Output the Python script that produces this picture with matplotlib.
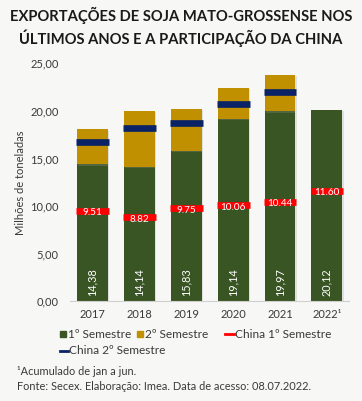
import matplotlib
matplotlib.use("Agg")
import matplotlib.pyplot as plt
import matplotlib.patheffects as pe
from matplotlib.patches import Rectangle
from matplotlib.lines import Line2D

years = ["2017", "2018", "2019", "2020", "2021", "2022\u00b9"]
sem1 = [14.38, 14.14, 15.83, 19.14, 19.97, 20.12]
sem2 = [3.69, 5.89, 4.41, 3.26, 3.83, 0.0]
china1 = [9.51, 8.82, 9.75, 10.06, 10.44, 11.60]
china2 = [16.77, 18.20, 18.70, 20.70, 22.00, None]
yticks = [0, 5, 10, 15, 20, 25]
legend_labels = ["1º Semestre", "2º Semestre", "China 1º Semestre", "China 2º Semestre"]

GREEN = "#3A5524"
GOLD = "#C09000"
RED = "#FF0000"
NAVY = "#0A2266"
BG = "#F7F7F5"
TXT = "#3A3A3A"

plt.rcParams["font.family"] = ["Lato", "DejaVu Sans"]

W, H = 362, 401
fig = plt.figure(figsize=(3.62, 4.01), dpi=100, facecolor=BG)
ax = fig.add_axes([0.193, 0.249, 0.771, 0.593], facecolor=BG)

x = list(range(len(years)))
w = 0.66
shadow = [pe.SimplePatchShadow(offset=(1.0, -1.0), shadow_rgbFace="#999999", alpha=0.25), pe.Normal()]
b1 = ax.bar(x, sem1, width=w, color=GREEN, zorder=2)
b2 = ax.bar(x, sem2, width=w, bottom=sem1, color=GOLD, zorder=2)
for r1, r2, s2 in zip(b1, b2, sem2):
    r1.set_path_effects(shadow)
    if s2 > 0:
        r2.set_path_effects(shadow)

for xi, v in zip(x, china1):
    ax.hlines(v, xi - w / 2 - 0.02, xi + w / 2 + 0.02, color=RED, linewidth=4.8, zorder=3)
    ax.text(xi, v - 0.2, f"{v:.2f}", color="white", ha="center", va="center",
            fontsize=7.2, zorder=4)
for xi, v in zip(x, china2):
    if v is not None:
        ax.hlines(v, xi - w / 2 - 0.02, xi + w / 2 + 0.02, color=NAVY, linewidth=4.8, zorder=3)

for xi, v in zip(x, sem1):
    ax.text(xi, 2.0, f"{v:.2f}".replace(".", ","), color="white", rotation=90,
            ha="center", va="center", fontsize=7.8, zorder=4)

ax.set_xlim(-0.48, 5.47)
ax.set_ylim(0, 25)
ax.set_yticks(yticks)
ax.set_yticklabels([f"{t:.2f}".replace(".", ",") for t in yticks], fontsize=8, color=TXT)
ax.set_xticks(x)
ax.set_xticklabels(years, fontsize=8, color=TXT)
ax.tick_params(length=0, pad=6)
ax.tick_params(axis="y", pad=8)
for s in ["top", "right", "left"]:
    ax.spines[s].set_visible(False)
ax.spines["bottom"].set_color("#D0D0D0")
ax.set_ylabel("Milhões de toneladas", fontsize=8, color=TXT, labelpad=3)

fig.text(0.5, 0.962, "EXPORTAÇÕES DE SOJA MATO-GROSSENSE NOS", ha="center", va="center",
         fontsize=10.6, fontweight="bold", color="#1A1A1A")
fig.text(0.5, 0.905, "ÚLTIMOS ANOS E A PARTICIPAÇÃO DA CHINA", ha="center", va="center",
         fontsize=10.6, fontweight="bold", color="#1A1A1A")

# legend drawn manually in pixel positions
def fx(px):
    return px / W

def fy(py):
    return 1 - py / H

row1, row2 = 334, 351
sq = 6
fig.add_artist(Rectangle((fx(60), fy(row1 + sq / 2)), sq / W, sq / H, color=GREEN, transform=fig.transFigure))
fig.text(fx(68), fy(row1), legend_labels[0], fontsize=8.6, color=TXT, va="center")
fig.add_artist(Rectangle((fx(137), fy(row1 + sq / 2)), sq / W, sq / H, color=GOLD, transform=fig.transFigure))
fig.text(fx(145), fy(row1), legend_labels[1], fontsize=8.6, color=TXT, va="center")
fig.add_artist(Line2D([fx(225), fx(234)], [fy(row1), fy(row1)], color=RED, lw=2, transform=fig.transFigure))
fig.text(fx(235), fy(row1), legend_labels[2], fontsize=8.6, color=TXT, va="center")
fig.add_artist(Line2D([fx(60), fx(68)], [fy(row2), fy(row2)], color=NAVY, lw=2, transform=fig.transFigure))
fig.text(fx(69), fy(row2), legend_labels[3], fontsize=8.6, color=TXT, va="center")

fig.text(0.048, 0.073, "\u00b9Acumulado de jan a jun.", fontsize=7.9, color=TXT, va="center")
fig.text(0.048, 0.035, "Fonte: Secex. Elaboração: Imea. Data de acesso: 08.07.2022.",
         fontsize=7.9, color=TXT, va="center")

fig.savefig("out.png", dpi=100, facecolor=BG)
